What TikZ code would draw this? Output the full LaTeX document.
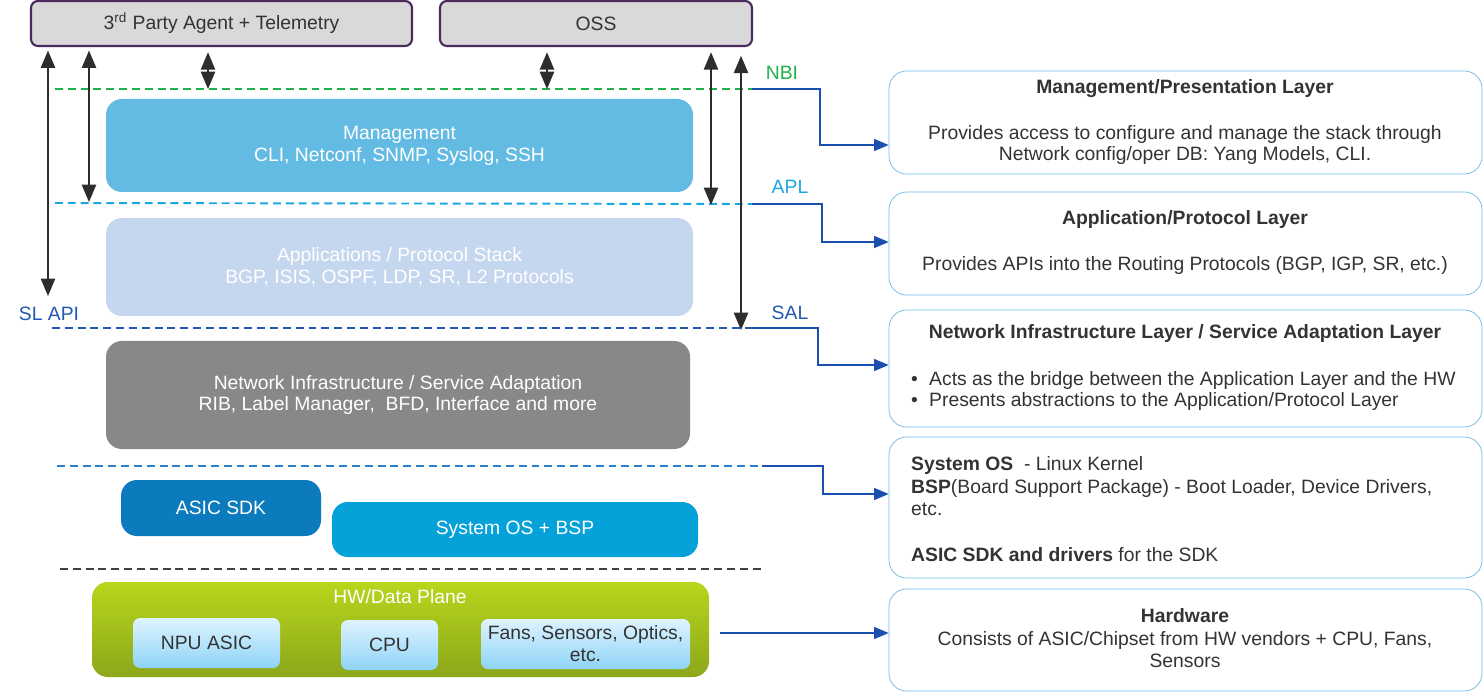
\documentclass[tikz,border=0pt]{standalone}
\usepackage{fontspec}
\setmainfont{Liberation Sans}
\usetikzlibrary{arrows}

\definecolor{topfill}{HTML}{D9D9D9}
\definecolor{topedge}{HTML}{4A2A5C}
\definecolor{textgray}{HTML}{333333}
\definecolor{mgmtblue}{HTML}{63BBE4}
\definecolor{appblue}{HTML}{C5D7EF}
\definecolor{infragray}{HTML}{878889}
\definecolor{sdkblue}{HTML}{0B7BBD}
\definecolor{osblue}{HTML}{05A1D9}
\definecolor{hwtop}{HTML}{B7D61C}
\definecolor{hwbot}{HTML}{8CA71B}
\definecolor{chiptop}{HTML}{DFF3FF}
\definecolor{chipbot}{HTML}{8ED4F7}
\definecolor{infoedge}{HTML}{6CB9E8}
\definecolor{linkblue}{HTML}{1A4FB0}
\definecolor{nbigreen}{HTML}{1FB24A}
\definecolor{aplcyan}{HTML}{1AA8E3}
\definecolor{salblue}{HTML}{2158B5}
\definecolor{osdash}{HTML}{2A7FD0}
\definecolor{darkdash}{HTML}{404040}
\definecolor{arrowgray}{HTML}{2D2D2D}

\newlength\pxu
\setlength\pxu{0.02cm}

\begin{document}
\begin{tikzpicture}[x=0.02cm,y=-0.02cm,>=triangle 45,
    font=\fontsize{11}{12.5}\selectfont,
    top box/.style={draw=topedge,line width=1.2pt,fill=topfill,rounded corners=4pt,inner sep=0pt,text=textgray},
    layer box/.style={fill=#1,rounded corners=9pt,inner sep=0pt,text=white,align=center},
    chip box/.style={top color=chiptop,bottom color=chipbot,rounded corners=4pt,inner sep=0pt,align=center,text=textgray},
    info box/.style={draw=infoedge,fill=white,rounded corners=10pt,inner sep=0pt,minimum width=593\pxu},
    info text/.style={text=textgray,align=center},
    info title/.style={text=textgray,font=\fontsize{11}{12.5}\selectfont\bfseries},
    split/.style={dash pattern=on 4.5pt off 2.8pt,line width=1.1pt,draw=#1},
    io/.style={<->,line width=1.3pt,draw=arrowgray,shorten <=1pt},
    link/.style={->,line width=0.9pt,draw=linkblue}]

  \useasboundingbox (0,0) rectangle (1484,692);

  % top boxes
  \node[top box, minimum width=381\pxu, minimum height=45\pxu] (agent) at (221.5,23.5) {3\textsuperscript{rd} Party Agent + Telemetry};
  \node[top box, minimum width=312\pxu, minimum height=45\pxu] (oss) at (596,23.5) {OSS};

  % stack layers
  \node[layer box=mgmtblue, minimum width=587\pxu, minimum height=93\pxu] (mgmt) at (399.5,145.5) {Management\\CLI, Netconf, SNMP, Syslog, SSH};
  \node[layer box=appblue, minimum width=587\pxu, minimum height=98\pxu] (apps) at (399.5,267) {Applications / Protocol Stack\\BGP, ISIS, OSPF, LDP, SR, L2 Protocols};
  \node[layer box=infragray, minimum width=584\pxu, minimum height=108\pxu] (infra) at (398,395) {Network Infrastructure / Service Adaptation\\RIB, Label Manager,\ \ BFD, Interface and more};
  \node[layer box=sdkblue, minimum width=200\pxu, minimum height=56\pxu] (sdk) at (221,508) {ASIC SDK};
  \node[layer box=osblue, minimum width=366\pxu, minimum height=55\pxu] (sysos) at (515,529.5) {System OS + BSP};

  % hardware
  \node[top color=hwtop, bottom color=hwbot, rounded corners=9pt, inner sep=0pt, minimum width=617\pxu, minimum height=95\pxu] (hw) at (400.5,629.5) {};
  \node[text=white] (hwtitle) at (400,597) {HW/Data Plane};
  \node[chip box, minimum width=147\pxu, minimum height=50\pxu] (npu) at (206.5,643) {NPU ASIC};
  \node[chip box, minimum width=97\pxu, minimum height=50\pxu] (cpu) at (389.5,645) {CPU};
  \node[chip box, minimum width=209\pxu, minimum height=50\pxu] (fans) at (585.5,644) {Fans, Sensors, Optics,\\etc.};

  % layer borders
  \coordinate (nbiL) at (55,89);
  \coordinate (nbiR) at (752,89);
  \coordinate (aplL) at (55,203);
  \coordinate (aplR) at (752,204);
  \coordinate (salL) at (52,328);
  \coordinate (salR) at (752,328);
  \coordinate (osL) at (57,466);
  \coordinate (osR) at (762,466);
  \coordinate (hwL) at (60,569);
  \coordinate (hwR) at (765,569);

  \draw[split=nbigreen] (nbiL) -- (nbiR);
  \draw[split=aplcyan] (aplL) -- (aplR);
  \draw[split=salblue] (salL) -- (salR);
  \draw[split=osdash] (osL) -- (osR);
  \draw[split=darkdash] (hwL) -- (hwR);

  \node[text=nbigreen] (nbi) at (782,73) {NBI};
  \node[text=aplcyan] (apl) at (790,187) {APL};
  \node[text=salblue] (sal) at (790,313) {SAL};
  \node[text=salblue] (slapi) at (49,314) {SL API};

  % interface arrows
  \coordinate (slfoot) at (48,296);
  \coordinate (agfoot) at (89,202);
  \coordinate (agnbi) at (208,89);
  \coordinate (ossnbi) at (547,89);
  \coordinate (ossapl) at (711,205);
  \coordinate (osssal) at (741,330);

  \draw[io, shorten <=2pt] (agent.south -| slfoot) -- (slfoot);
  \draw[io, shorten <=2pt] (agent.south -| agfoot) -- (agfoot);
  \draw[io, shorten <=3pt] (agent.south -| agnbi) -- (agnbi);
  \draw[io, shorten <=3pt] (oss.south -| ossnbi) -- (ossnbi);
  \draw[io, shorten <=3pt] (oss.south -| ossapl) -- (ossapl);
  \draw[io, shorten <=5pt] (oss.south -| osssal) -- (osssal);

  % description boxes
  \node[info box, minimum height=103\pxu] (mgmtinfo) at (1185.5,122.5) {};
  \node[info title] at (1185,89) {Management/Presentation Layer};
  \node[info text] at (1185,145) {Provides access to configure and manage the stack through\\Network config/oper DB: Yang Models, CLI.};

  \node[info box, minimum height=103\pxu] (appinfo) at (1185.5,243.5) {};
  \node[info title] at (1185,220) {Application/Protocol Layer};
  \node[info text] at (1185,266) {Provides APIs into the Routing Protocols (BGP, IGP, SR, etc.)};

  \node[info box, minimum height=117\pxu] (infrainfo) at (1185.5,368.5) {};
  \node[info title] at (1185,334) {Network Infrastructure Layer / Service Adaptation Layer};
  \node[info text, align=left, anchor=west] at (905,391) {\makebox[18\pxu][l]{\textbullet}Acts as the bridge between the Application Layer and the HW\\\makebox[18\pxu][l]{\textbullet}Presents abstractions to the Application/Protocol Layer};

  \node[info box, minimum height=141\pxu] (osinfo) at (1185.5,507.5) {};
  \node[info text, align=left, anchor=north west, font=\fontsize{11}{13}\selectfont] at (905,450) {\textbf{System OS}\ \ - Linux Kernel\\\textbf{BSP}(Board Support Package) - Boot Loader, Device Drivers,\\etc.\\[13pt]\textbf{ASIC SDK and drivers} for the SDK};

  \node[info box, minimum height=102\pxu] (hwinfo) at (1185.5,640) {};
  \node[info title] at (1185,616) {Hardware};
  \node[info text] at (1185,650) {Consists of ASIC/Chipset from HW vendors + CPU, Fans,\\Sensors};

  % links to descriptions
  \draw[link] (nbiR) -- (820,89) |- (mgmtinfo.west |- 0,145);
  \draw[link] (aplR) -- (822,204) |- (appinfo.west |- 0,242);
  \draw[link] (salR) -- (818,328) |- (infrainfo.west |- 0,365);
  \draw[link] (osR) -- (823,466) |- (osinfo.west |- 0,494);
  \draw[link, shorten <=6pt] (hw.east |- 0,633) -- (hwinfo.west |- 0,633);
\end{tikzpicture}
\end{document}
